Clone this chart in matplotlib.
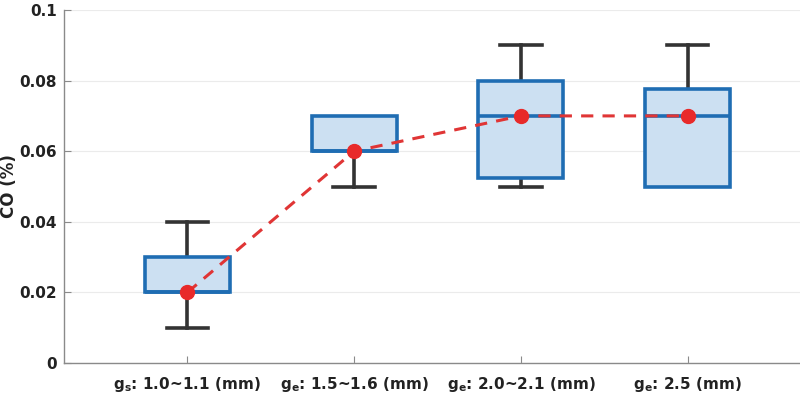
import matplotlib
matplotlib.use("Agg")
import matplotlib.pyplot as plt

plt.rcParams['font.family'] = ['DejaVu Sans']
plt.rcParams['mathtext.fontset'] = 'custom'
plt.rcParams['mathtext.rm'] = 'DejaVu Sans:bold'
plt.rcParams['mathtext.bf'] = 'DejaVu Sans:bold'
plt.rcParams['mathtext.it'] = 'DejaVu Sans:bold'

categories = [r'g$_\mathrm{s}$: 1.0~1.1 (mm)', r'g$_\mathrm{e}$: 1.5~1.6 (mm)',
              r'g$_\mathrm{e}$: 2.0~2.1 (mm)', r'g$_\mathrm{e}$: 2.5 (mm)']
whislo = [0.01, 0.05, 0.05, 0.05]
q1 = [0.02, 0.06, 0.0525, 0.05]
med = [0.02, 0.06, 0.07, 0.07]
q3 = [0.03, 0.07, 0.08, 0.0775]
whishi = [0.04, 0.07, 0.09, 0.09]
means = [0.02, 0.06, 0.07, 0.07]
yticks = [0, 0.02, 0.04, 0.06, 0.08, 0.1]
ytick_labels = ['0', '0.02', '0.04', '0.06', '0.08', '0.1']

fig = plt.figure(figsize=(8, 3.98), dpi=100)
ax = fig.add_axes([64/800, 35/398, (811-64)/800, 353/398])

stats = []
for i in range(len(categories)):
    stats.append(dict(whislo=whislo[i], q1=q1[i], med=med[i], q3=q3[i], whishi=whishi[i], fliers=[]))
pos = list(range(1, len(categories) + 1))
bp = ax.bxp(stats, positions=pos, widths=0.51, patch_artist=True, showfliers=False,
            boxprops=dict(facecolor='#cce0f2', edgecolor='#1f6db3', linewidth=2.6),
            medianprops=dict(color='#1f6db3', linewidth=2.6),
            whiskerprops=dict(color='#333333', linewidth=2.6),
            capprops=dict(color='#333333', linewidth=2.6), capwidths=0.25)
for b in bp['boxes']:
    b.set_zorder(3)
for m in bp['medians']:
    m.set_zorder(3.5)
# hide caps where whisker coincides with box edge
for i in range(len(categories)):
    if whislo[i] == q1[i]:
        bp['caps'][2 * i].set_visible(False)
    if whishi[i] == q3[i]:
        bp['caps'][2 * i + 1].set_visible(False)

ax.plot(pos, means, linestyle='--', color='#e03535', linewidth=2.2, marker='o',
        markersize=10, markerfacecolor='#e82a2a', markeredgecolor='#e82a2a', zorder=4,
        dashes=(4, 3))

ax.set_xlim(0.26, 4.74)
ax.set_ylim(0, 0.1)
ax.set_yticks(yticks)
ax.set_yticklabels(ytick_labels)
ax.set_xticks(pos)
ax.set_xticklabels(categories)
ax.yaxis.grid(True, color='#ebebeb', linewidth=0.8, zorder=0)
ax.set_axisbelow(True)
for s in ['top', 'right']:
    ax.spines[s].set_visible(False)
for s in ['left', 'bottom']:
    ax.spines[s].set_color('#8a8a8a')
    ax.spines[s].set_linewidth(1.0)
ax.tick_params(direction='in', length=5, color='#8a8a8a', labelsize=11, labelcolor='#222222', pad=5)
ax.tick_params(axis='x', pad=9)
for lab in ax.get_xticklabels() + ax.get_yticklabels():
    lab.set_fontweight('bold')
ax.set_ylabel('CO (%)', fontsize=12, fontweight='bold', color='#222222', va='center')
ax.yaxis.set_label_coords(-0.074, 0.5)

fig.savefig('out.png', dpi=100)
